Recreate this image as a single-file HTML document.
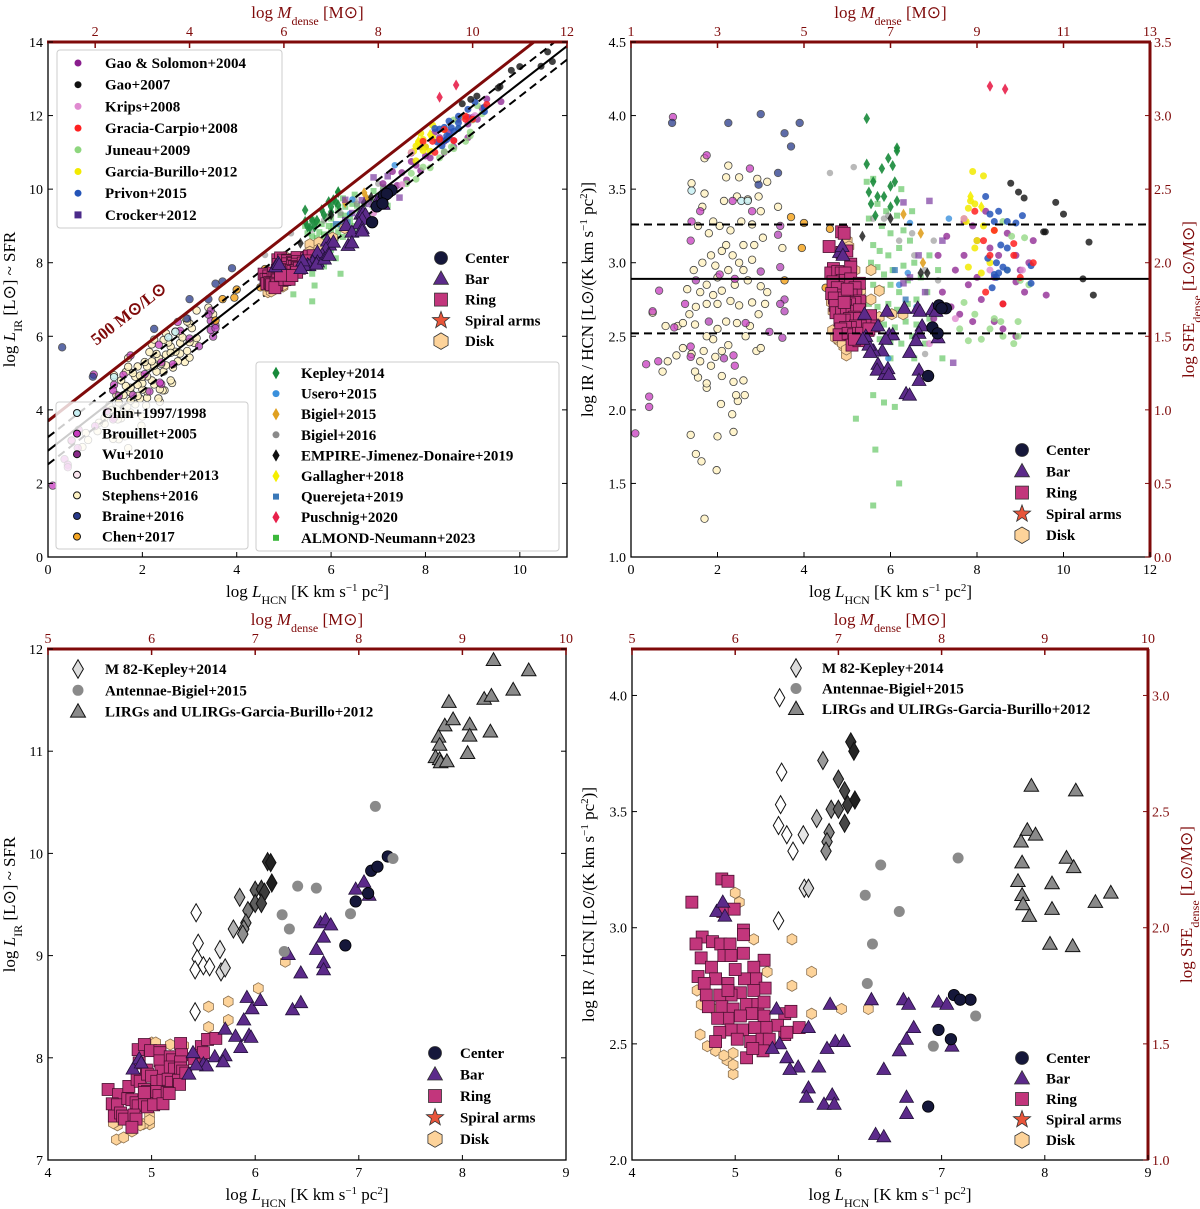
<!DOCTYPE html>
<html><head><meta charset="utf-8"><title>IR vs HCN</title>
<style>
html,body{margin:0;padding:0;background:#fff;}
svg{display:block;font-family:"Liberation Serif",serif;}
.tk{font-size:14px;}
.lab{font-size:17px;}
.lg{font-size:15px;font-weight:bold;}
</style></head>
<body>
<svg id="chart" width="1200" height="1209" viewBox="0 0 1200 1209" xmlns="http://www.w3.org/2000/svg"></svg>
<script>
// ---------- DATA: [log L_HCN, log IR/HCN] ----------
const gaoSolomon2004=[[7.3,3.18],[7.1,3.05],[7.7,3.28],[8.0,3.15],[8.3,3.10],[8.5,3.05],[7.5,2.95],[7.8,2.85],[8.1,2.75],[8.4,2.60],[8.6,2.55],[7.2,2.80],[7.6,2.65],[7.9,2.60],[7.4,2.70],[8.9,2.50],[9.6,2.78],[9.1,2.80],[9.0,2.95],[8.2,3.35],[8.7,3.20],[8.4,2.90],[9.2,3.00],[8.9,3.05],[7.0,2.62],[8.0,2.90],[9.3,3.15],[7.9,3.25],[7.7,3.05],[8.6,2.72],[8.9,2.87]];
const gao2007=[[8.78,3.54],[8.96,3.48],[9.09,3.44],[9.54,3.21],[9.58,3.21],[9.82,3.41],[10.0,3.33],[10.59,3.14],[10.45,2.89],[10.69,2.78]];
const krips2008=[[7.7,3.30],[9.05,2.95],[6.9,2.45],[7.5,2.62],[8.3,2.95]];
const graciaCarpio2008=[[7.95,3.35],[8.4,3.22],[8.15,3.15],[8.85,3.13],[8.85,3.05],[9.3,3.0],[8.2,2.80],[8.6,2.72],[9.0,2.90],[8.3,3.05]];
const juneau2009=[[8.6,3.28],[8.8,3.18],[9.1,3.17],[8.7,2.95],[9.0,2.88],[7.7,2.73],[7.95,2.65],[8.3,2.55],[8.6,2.50],[8.95,2.50],[7.8,2.47],[8.1,2.48],[8.95,2.60],[8.85,2.45],[9.2,2.85],[8.4,2.62],[7.6,2.55],[8.55,2.60]];
const garciaBurillo2012=[[7.9,3.62],[8.15,3.59],[7.85,3.42],[7.95,3.40],[7.8,3.37],[7.75,3.28],[8.0,3.15],[8.15,3.25],[7.8,2.97],[7.95,3.10],[8.1,2.93],[8.3,3.0],[7.7,3.30],[8.4,3.22]];
const privon2015=[[8.3,3.33],[8.5,3.35],[8.4,3.28],[8.7,3.28],[8.9,3.27],[9.05,3.32],[8.2,3.45],[8.7,3.10],[8.45,3.00],[8.6,2.97],[8.5,2.93],[8.4,2.92],[8.7,2.95],[8.25,3.03],[8.55,3.12],[8.35,2.83],[9.25,2.86],[9.25,2.98],[8.45,2.90]];
const crocker2012=[[6.3,3.41],[6.9,3.42],[6.65,3.05],[6.3,2.86],[6.8,2.80],[7.45,2.32],[7.2,3.15],[6.45,2.90]];
const chin1997=[[1.4,3.49],[2.55,3.42],[2.7,3.42]];
const brouillet2005=[[0.97,3.99],[1.75,3.73],[1.4,3.28],[1.38,3.15],[0.65,2.81],[0.5,2.67],[0.35,2.31],[0.42,2.09],[0.42,2.02],[0.1,1.84],[0.63,2.33],[1.0,2.56],[1.25,2.72],[1.38,2.43],[1.38,2.36],[2.05,2.92],[2.4,2.89],[2.65,2.59],[2.4,2.30],[2.37,2.37],[2.8,3.35],[2.75,3.64],[2.35,3.42],[1.6,3.35]];
const wu2010=[[3.0,2.94],[3.2,2.53],[3.45,2.97],[3.55,2.75],[3.5,2.49],[3.45,2.72],[3.55,2.67],[3.45,3.25],[3.4,3.19],[1.5,2.88],[1.8,2.60],[2.15,2.35]];
const stephens2016=[[1.7,1.26],[1.98,1.59],[1.63,1.65],[1.5,1.70],[1.38,1.83],[2.0,1.82],[2.37,1.85],[2.08,2.04],[2.34,1.97],[2.47,2.06],[2.63,2.10],[2.43,2.10],[2.6,2.20],[2.37,2.19],[2.1,2.23],[1.75,2.15],[1.75,2.18],[1.55,2.22],[1.48,2.26],[0.73,2.26],[0.85,2.33],[1.4,2.38],[1.6,2.33],[1.85,2.30],[1.68,2.40],[1.95,2.36],[2.1,2.40],[2.25,2.44],[1.2,2.42],[1.05,2.37],[2.9,2.40],[3.0,2.42],[1.9,2.48],[1.75,2.50],[1.08,2.57],[0.8,2.57],[1.2,2.59],[1.48,2.58],[2.0,2.55],[2.45,2.59],[2.2,2.60],[2.65,2.50],[2.95,2.65],[3.1,2.72],[2.8,2.73],[2.5,2.71],[2.3,2.74],[2.0,2.72],[1.75,2.72],[1.5,2.70],[1.3,2.82],[1.6,2.80],[1.9,2.78],[2.1,2.81],[2.4,2.85],[2.7,2.88],[3.0,2.84],[1.75,2.85],[2.0,2.90],[2.25,2.95],[2.5,3.0],[2.8,3.02],[1.45,2.95],[1.65,3.0],[1.85,3.05],[2.1,3.08],[2.35,3.05],[2.6,3.12],[3.05,3.17],[1.8,3.2],[2.05,3.25],[2.3,3.22],[2.55,3.28],[2.8,3.26],[3.0,3.35],[1.55,3.25],[1.65,3.38],[1.9,3.28],[2.15,3.42],[2.45,3.45],[2.7,3.43],[2.95,3.45],[1.7,3.47],[1.4,3.54],[2.2,3.58],[2.5,3.58],[2.92,3.57],[3.15,3.55],[2.25,3.66],[1.7,3.71],[3.4,3.38],[3.5,3.10],[0.5,2.66],[2.75,2.57],[3.15,2.80],[2.2,3.12],[1.95,2.98],[2.6,2.95],[1.35,2.65],[2.85,3.12]];
const braine2016=[[2.25,3.95],[3.0,4.01],[3.55,3.88],[3.9,3.95],[3.7,3.79],[3.4,3.61],[2.95,3.53],[0.3,5.4],[0.95,3.95]];
const chen2017=[[3.7,3.31],[4.0,3.27],[4.6,3.23],[3.95,3.10],[4.5,2.83],[3.55,2.88]];
const kepley2014=[[5.45,3.98],[6.15,3.78],[6.15,3.76],[5.95,3.71],[6.05,3.66],[5.45,3.67],[5.8,3.64],[5.6,3.55],[6.1,3.55],[6.0,3.52],[5.5,3.48],[5.7,3.45],[6.15,3.42],[5.55,3.40],[5.85,3.45],[6.0,3.38],[5.65,3.32]];
const usero2015=[[6.45,3.27],[7.35,3.30],[6.4,2.93],[6.2,2.85],[5.95,2.35],[6.6,2.70]];
const bigiel2015=[[6.3,3.33],[6.7,3.20],[6.75,3.0]];
const bigiel2016=[[4.6,3.61],[5.15,3.65],[5.6,3.30],[5.95,3.32],[6.2,3.15],[6.5,3.20],[7.0,3.15],[6.8,2.95],[7.1,2.88],[6.55,3.05],[7.0,2.55],[6.8,2.38],[5.85,3.30]];
const empire2019=[[5.35,3.18],[6.0,3.30],[6.7,2.93],[6.85,2.93]];
const gallagher2018=[[7.85,3.45],[8.1,3.38]];
const querejeta2019=[[6.1,2.95],[6.35,2.75]];
const puschnig2020=[[8.3,4.20],[8.65,4.18]];
const almond2023=[[5.6,3.57],[5.45,3.55],[6.25,3.50],[5.7,3.40],[5.9,3.35],[6.15,3.32],[5.5,3.30],[5.8,3.25],[6.0,3.20],[6.3,3.22],[6.5,3.35],[5.6,3.12],[5.75,3.08],[5.95,3.05],[6.2,3.10],[6.45,3.15],[5.55,3.0],[5.7,2.97],[5.85,2.92],[6.05,2.95],[6.3,2.98],[6.55,3.0],[5.6,2.85],[5.8,2.82],[6.0,2.85],[6.2,2.80],[6.4,2.88],[6.7,2.90],[5.5,2.72],[5.7,2.70],[5.95,2.72],[6.15,2.68],[6.4,2.72],[6.6,2.75],[6.85,2.80],[5.6,2.60],[5.85,2.58],[6.1,2.56],[6.35,2.60],[6.6,2.58],[6.9,2.62],[5.75,2.48],[6.0,2.46],[6.25,2.45],[6.5,2.50],[6.8,2.45],[6.0,2.35],[6.55,2.35],[7.2,2.35],[5.6,2.10],[5.85,2.05],[6.1,2.02],[5.2,1.94],[5.65,1.73],[6.2,1.50],[5.6,1.35],[7.0,2.55],[7.1,2.65],[6.9,3.05],[7.1,2.95]];
// galaxy sample (this work)
const centerPts=[[7.12,2.71],[7.28,2.69],[7.18,2.69],[6.97,2.56],[7.09,2.52],[6.87,2.23]];
const barPts=[[5.92,2.67],[6.32,2.69],[6.63,2.69],[6.68,2.67],[6.97,2.68],[7.05,2.67],[7.1,2.49],[6.73,2.57],[6.66,2.52],[6.59,2.47],[6.44,2.39],[5.97,2.51],[6.05,2.51],[5.89,2.48],[5.81,2.40],[5.71,2.57],[5.61,2.40],[5.5,2.44],[5.53,2.39],[5.43,2.50],[5.40,2.65],[5.71,2.31],[5.69,2.27],[5.86,2.24],[5.94,2.28],[5.96,2.24],[6.36,2.11],[6.44,2.10],[6.66,2.27],[6.66,2.20],[4.82,3.07],[4.88,3.11],[4.90,3.05],[5.36,2.48]];
const ringPts=[[4.58,3.11],[4.87,3.21],[4.93,3.20],[4.88,3.07],[4.99,3.08],[5.08,2.99],[5.08,2.97],[4.68,2.96],[4.62,2.93],[4.78,2.94],[4.86,2.93],[4.95,2.93],[4.89,2.88],[4.96,2.88],[5.08,2.89],[4.67,2.87],[4.77,2.83],[4.81,2.78],[4.64,2.79],[4.70,2.76],[5.28,2.86],[5.18,2.83],[5.20,2.78],[5.09,2.78],[4.93,2.76],[5.0,2.82],[5.29,2.74],[5.18,2.73],[5.05,2.72],[4.96,2.71],[4.85,2.71],[4.72,2.71],[4.74,2.66],[4.87,2.66],[4.98,2.65],[5.11,2.67],[5.22,2.67],[5.28,2.68],[5.16,2.63],[5.05,2.62],[4.93,2.61],[4.83,2.61],[5.28,2.62],[5.48,2.63],[5.54,2.64],[5.62,2.57],[5.48,2.54],[5.41,2.58],[5.30,2.57],[5.19,2.57],[5.07,2.56],[4.96,2.56],[4.85,2.55],[4.81,2.51],[5.02,2.52],[5.15,2.51],[5.26,2.52],[5.33,2.52],[5.50,2.55],[5.11,2.44],[5.27,2.47],[5.17,2.48],[4.93,2.73]];
const diskPts=[[5.0,3.15],[5.18,2.95],[5.55,2.95],[5.31,2.81],[5.74,2.81],[5.55,2.75],[6.03,2.65],[6.29,2.65],[5.74,2.63],[4.98,2.37],[4.92,2.43],[4.81,2.47],[4.66,2.54],[4.67,2.67],[4.79,2.65],[4.73,2.49],[4.98,2.46],[4.89,2.45],[4.98,2.41],[4.63,2.73],[5.04,3.11]];
// bottom-panel literature
const m82Kepley=[[5.43,3.99],[5.45,3.67],[5.44,3.53],[5.42,3.44],[5.50,3.40],[5.66,3.40],[5.56,3.33],[5.67,3.17],[5.71,3.17],[5.42,3.03],[5.85,3.72],[5.79,3.47],[5.93,3.51],[5.91,3.41],[5.89,3.37],[5.88,3.33],[6.0,3.64],[6.0,3.51],[6.06,3.59],[6.09,3.53],[6.06,3.45],[6.12,3.80],[6.15,3.76],[6.16,3.55]];
const antennaeBigiel=[[6.41,3.27],[7.16,3.30],[6.26,3.14],[6.59,3.07],[6.33,2.93],[6.28,2.76],[7.33,2.62],[6.92,2.49]];
const lirgsGB=[[7.87,3.61],[8.30,3.59],[7.83,3.42],[7.91,3.40],[7.77,3.37],[7.78,3.28],[8.21,3.30],[8.28,3.26],[7.74,3.20],[7.78,3.14],[7.79,3.10],[7.85,3.05],[8.07,3.19],[8.07,3.08],[8.49,3.11],[8.64,3.15],[8.05,2.93],[8.27,2.92]];
// ratio lines
const ratioLines=[2.52,2.89,3.26];
const densityLine=3.7;

// ---------- helpers ----------
const NS='http://www.w3.org/2000/svg';
const svg=document.getElementById('chart');
const RED='#7f0a0a';
function el(tag,attrs,parent){const e=document.createElementNS(NS,tag);for(const k in attrs)e.setAttribute(k,attrs[k]);(parent||svg).appendChild(e);return e;}
function shapeEl(parent,shape,cx,cy,s,fill,stroke,sw,op){
  let e;
  if(shape==='circle'){e=el('circle',{cx:cx,cy:cy,r:s/2},parent);}
  else if(shape==='square'){e=el('rect',{x:cx-s/2,y:cy-s/2,width:s,height:s},parent);}
  else{
    let pts=[];
    if(shape==='triangle')pts=[[0,-0.6],[-0.58,0.42],[0.58,0.42]];
    else if(shape==='diamond')pts=[[0,-0.62],[0.36,0],[0,0.62],[-0.36,0]];
    else if(shape==='hexagon'){for(let i=0;i<6;i++){const a=Math.PI/3*i-Math.PI/2;pts.push([0.55*Math.cos(a),0.55*Math.sin(a)]);}}
    else if(shape==='star'){for(let i=0;i<10;i++){const a=Math.PI/5*i-Math.PI/2;const r=i%2?0.25:0.6;pts.push([r*Math.cos(a),r*Math.sin(a)]);}}
    e=el('polygon',{points:pts.map(p=>(cx+p[0]*s).toFixed(1)+','+(cy+p[1]*s).toFixed(1)).join(' ')},parent);
  }
  e.setAttribute('fill',fill);e.setAttribute('stroke',stroke);e.setAttribute('stroke-width',sw);
  if(op<1)e.setAttribute('opacity',op);
  return e;
}
function txt(parent,x,y,str,cls,anchor,fill){const t=el('text',{x:x,y:y,'class':cls,'text-anchor':anchor||'start',fill:fill||'#000'},parent);t.textContent=str;return t;}
function richText(parent,x,y,parts,cls,fill,rot){
  const t=el('text',{x:x,y:y,'class':cls,'text-anchor':'middle',fill:fill||'#000'},parent);
  if(rot)t.setAttribute('transform','rotate('+rot+' '+x+' '+y+')');
  parts.forEach(p=>{const s=el('tspan',{},t);s.textContent=p[0];
    if(p[1]==='i')s.setAttribute('font-style','italic');
    if(p[1]==='sub'){s.setAttribute('font-size','12');s.setAttribute('baseline-shift','sub');}
    if(p[1]==='sup'){s.setAttribute('font-size','11');s.setAttribute('baseline-shift','super');}
  });
  return t;
}
const panels={
 A:{x0:48,x1:567,y0:42,y1:557,xmin:0,xmax:11,ymin:0,ymax:14},
 B:{x0:631,x1:1150,y0:42,y1:557,xmin:0,xmax:12,ymin:1,ymax:4.5},
 C:{x0:48,x1:566,y0:649,y1:1160,xmin:4,xmax:9,ymin:7,ymax:12},
 D:{x0:632,x1:1148,y0:649,y1:1160,xmin:4,xmax:9,ymin:2,ymax:4.2}
};
function sx(p,v){return p.x0+(v-p.xmin)/(p.xmax-p.xmin)*(p.x1-p.x0);}
function sy(p,v){return p.y1-(v-p.ymin)/(p.ymax-p.ymin)*(p.y1-p.y0);}
function yOf(p,d){return p.mode==='lir'?d[0]+d[1]:d[1];}
panels.A.mode='lir';panels.B.mode='ratio';panels.C.mode='lir';panels.D.mode='ratio';

const litSets=[
 {name:'stephens-2016',data:stephens2016,shape:'circle',fill:'#fff3c4',stroke:'#222',op:0.85,s:7.5},
 {name:'brouillet-2005',data:brouillet2005,shape:'circle',fill:'#c83cc0',stroke:'#222',op:0.75,s:7.5},
 {name:'wu-2010',data:wu2010,shape:'circle',fill:'#b440b8',stroke:'#222',op:0.75,s:7.5},
 {name:'chin-1997',data:chin1997,shape:'circle',fill:'#c8f0f4',stroke:'#222',op:0.85,s:7.5},
 {name:'braine-2016',data:braine2016,shape:'circle',fill:'#283a8c',stroke:'#222',op:0.75,s:7.5},
 {name:'chen-2017',data:chen2017,shape:'circle',fill:'#f5a623',stroke:'#222',op:0.85,s:7.5},
 {name:'almond-2023',data:almond2023,shape:'square',fill:'#3cb83c',stroke:'none',op:0.55,s:6},
 {name:'bigiel-2016',data:bigiel2016,shape:'circle',fill:'#8a8a8a',stroke:'none',op:0.6,s:6.5},
 {name:'kepley-2014',data:kepley2014,shape:'diamond',fill:'#178a3a',stroke:'none',op:0.9,s:9},
 {name:'usero-2015',data:usero2015,shape:'circle',fill:'#3a90dc',stroke:'none',op:0.8,s:6.5},
 {name:'bigiel-2015',data:bigiel2015,shape:'diamond',fill:'#e0a020',stroke:'none',op:0.9,s:9},
 {name:'empire-2019',data:empire2019,shape:'diamond',fill:'#111',stroke:'none',op:0.8,s:9},
 {name:'querejeta-2019',data:querejeta2019,shape:'square',fill:'#3a78b8',stroke:'none',op:0.8,s:6},
 {name:'crocker-2012',data:crocker2012,shape:'square',fill:'#7a3aa0',stroke:'none',op:0.7,s:6.5},
 {name:'gao-solomon-2004',data:gaoSolomon2004,shape:'circle',fill:'#8a1e8e',stroke:'none',op:0.75,s:7},
 {name:'juneau-2009',data:juneau2009,shape:'circle',fill:'#8ed67e',stroke:'none',op:0.75,s:7},
 {name:'garcia-burillo-2012',data:garciaBurillo2012,shape:'circle',fill:'#f2ea00',stroke:'none',op:0.85,s:7},
 {name:'gallagher-2018',data:gallagher2018,shape:'diamond',fill:'#f5ee00',stroke:'none',op:0.9,s:9},
 {name:'krips-2008',data:krips2008,shape:'circle',fill:'#e08ad0',stroke:'none',op:0.8,s:7},
 {name:'privon-2015',data:privon2015,shape:'circle',fill:'#2454b8',stroke:'none',op:0.85,s:7},
 {name:'gracia-carpio-2008',data:graciaCarpio2008,shape:'circle',fill:'#ff2020',stroke:'none',op:0.85,s:7},
 {name:'gao-2007',data:gao2007,shape:'circle',fill:'#111',stroke:'none',op:0.8,s:7},
 {name:'puschnig-2020',data:puschnig2020,shape:'diamond',fill:'#e8204a',stroke:'none',op:0.9,s:9}
];
const galSets=[
 {name:'disk',data:diskPts,shape:'hexagon',fill:'#fdd39a',stroke:'#8a7050'},
 {name:'ring',data:ringPts,shape:'square',fill:'#c2367c',stroke:'#4a1030'},
 {name:'bar',data:barPts,shape:'triangle',fill:'#5c2a8a',stroke:'#22103a'},
 {name:'center',data:centerPts,shape:'circle',fill:'#15173a',stroke:'#000'}
];

function clipGroup(key,p){
  const cp=el('clipPath',{id:'clip'+key});
  el('rect',{x:p.x0,y:p.y0,width:p.x1-p.x0,height:p.y1-p.y0},cp);
  const g=el('g',{'clip-path':'url(#clip'+key+')'});
  return g;
}
function drawAxes(key,p,opt){
  const g=el('g',{});
  
  
  const fr=el('rect',{x:p.x0,y:p.y0,width:p.x1-p.x0,height:p.y1-p.y0,fill:'none',stroke:'#000','stroke-width':1.3},g);
  
  
  const top=el('line',{x1:p.x0-1,y1:p.y0,x2:p.x1+1,y2:p.y0,stroke:RED,'stroke-width':3},g);
  
  
  if(opt.rightRed){const r=el('line',{x1:p.x1,y1:p.y0,x2:p.x1,y2:p.y1,stroke:RED,'stroke-width':3},g);
    
    }
  opt.xt.forEach(v=>{const x=sx(p,v);
    el('line',{x1:x,y1:p.y1,x2:x,y2:p.y1-5,stroke:'#000','stroke-width':1},g);
    const t=txt(g,x,p.y1+17,String(v),'tk','middle');
    
    });
  opt.topt.forEach(m=>{const x=sx(p,m-1);
    el('line',{x1:x,y1:p.y0,x2:x,y2:p.y0+6,stroke:RED,'stroke-width':1.5},g);
    const t=txt(g,x,p.y0-6,String(m),'tk','middle',RED);
    
    });
  opt.yt.forEach(v=>{const y=sy(p,v);
    el('line',{x1:p.x0,y1:y,x2:p.x0+5,y2:y,stroke:'#000','stroke-width':1},g);
    el('line',{x1:p.x1,y1:y,x2:p.x1-5,y2:y,stroke:opt.rightRed?RED:'#000','stroke-width':1},g);
    const t=txt(g,p.x0-5,y+5,opt.yfmt(v),'tk','end');
    
    
    if(opt.rightRed){const t2=txt(g,p.x1+4,y+5,(v-1).toFixed(1),'tk','start',RED);
      
      }
  });
  const cx=(p.x0+p.x1)/2;
  const xl=richText(g,cx,p.y1+40,[['log '],['L','i'],['HCN','sub'],[' [K km s'],['−1','sup'],[' pc'],['2','sup'],[']']],'lab');
  
  
  const tl=richText(g,cx,p.y0-24,[['log '],['M','i'],['dense','sub'],[' [M⊙]']],'lab',RED);
  
  
  const cy=(p.y0+p.y1)/2;
  let yl;
  if(p.mode==='lir')yl=richText(g,p.x0-33,cy,[['log '],['L','i'],['IR','sub'],[' [L⊙] ~ SFR']],'lab','#000',-90);
  else yl=richText(g,p.x0-38,cy,[['log IR / HCN [L⊙/(K km s'],['−1','sup'],[' pc'],['2','sup'],[')]']],'lab','#000',-90);
  
  
  if(opt.rightRed){const rl=richText(g,p.x1+44,cy,[['log SFE'],['dense','sub'],[' [L⊙/M⊙]']],'lab',RED,-90);
    
    }
}
function drawLit(g,p){
  litSets.forEach(ds=>{const sg=el('g',{},g);
    
    
    ds.data.forEach(d=>{const m=shapeEl(sg,ds.shape,sx(p,d[0]),sy(p,yOf(p,d)),ds.s,ds.fill,ds.stroke,0.8,ds.op);
      
      });
  });
}
function drawGal(g,p,s){
  galSets.forEach(ds=>{const sg=el('g',{},g);
    
    
    const sz=ds.shape==='hexagon'?s*0.85:(ds.shape==='circle'?s*0.95:s);
    ds.data.forEach(d=>{const m=shapeEl(sg,ds.shape,sx(p,d[0]),sy(p,yOf(p,d)),sz,ds.fill,ds.stroke,0.8,1);
      
      });
  });
}
function drawBottomLit(g,p){
  const s1=el('g',{},g);
  
  
  antennaeBigiel.forEach(d=>{const m=shapeEl(s1,'circle',sx(p,d[0]),sy(p,yOf(p,d)),11,'#8a8a8a','none',0,1);
    
    });
  const s2=el('g',{},g);
  
  
  lirgsGB.forEach(d=>{const m=shapeEl(s2,'triangle',sx(p,d[0]),sy(p,yOf(p,d)),12.5,'#8a8a8a','#111',1,1);
    
    });
  const s3=el('g',{},g);
  
  
  m82Kepley.forEach(d=>{const gv=Math.max(20,Math.min(255,Math.round(255-(d[0]-5.6)/0.6*240)));
    const m=shapeEl(s3,'diamond',sx(p,d[0]),sy(p,yOf(p,d)),14.5,'rgb('+gv+','+gv+','+gv+')','#111',1,1);
    
    });
}
function galLegend(x,y,dy,mx){
  const g=el('g',{});
  
  
  const items=[['circle','#15173a','Center'],['triangle','#5c2a8a','Bar'],['square','#c2367c','Ring'],['star','#e8553a','Spiral arms'],['hexagon','#fdd39a','Disk']];
  items.forEach((it,i)=>{const yy=y+i*dy;
    shapeEl(g,it[0],mx,yy-5,it[0]==='star'?15:(it[0]==='hexagon'?15:13),it[1],'#333',0.8,1);
    const t=txt(g,x,yy,it[2],'lg');
    
    });
}
function litLegend(box,mx,tx,y0,dy,items,name){
  const g=el('g',{});
  
  
  if(box)el('rect',{x:box[0],y:box[1],width:box[2],height:box[3],rx:3,fill:'#fff','fill-opacity':0.8,stroke:'#cccccc','stroke-width':1},g);
  items.forEach((it,i)=>{const yy=y0+i*dy;
    shapeEl(g,it[0],mx,yy-5,it[3]||7,it[1],it[4]||'none',it[4]?1:0,1);
    const t=txt(g,tx,yy,it[2],'lg');
    
    });
}

// ---------- PANEL A ----------
(function(){const p=panels.A;const g=clipGroup('A',p);
  
  
  drawLit(g,p);
  ratioLines.forEach((r,i)=>{const l=el('line',{x1:sx(p,0),y1:sy(p,r),x2:sx(p,11),y2:sy(p,11+r),stroke:'#000','stroke-width':2,'stroke-dasharray':i===1?'none':'8,5'},g);
    
    });
  drawGal(g,p,12);
  const dl=el('line',{x1:sx(p,0),y1:sy(p,densityLine),x2:sx(p,11),y2:sy(p,11+densityLine),stroke:RED,'stroke-width':3},g);
  
  
  const lt=el('text',{x:132,y:318,fill:RED,'font-size':17,'font-weight':'bold',transform:'rotate(-38 132 318)','text-anchor':'middle'});
  lt.textContent='500 M⊙/L⊙';
  
  
  drawAxes('A',p,{xt:[0,2,4,6,8,10],topt:[2,4,6,8,10,12],yt:[0,2,4,6,8,10,12,14],yfmt:v=>String(v),rightRed:false});
  litLegend([57,50,225,178],78,105,68,21.7,[['circle','#8a1e8e','Gao & Solomon+2004'],['circle','#111','Gao+2007'],['circle','#e08ad0','Krips+2008'],['circle','#ff2020','Gracia-Carpio+2008'],['circle','#8ed67e','Juneau+2009'],['circle','#f2ea00','Garcia-Burillo+2012'],['circle','#2454b8','Privon+2015'],['square','#4b2a8a','Crocker+2012',7]],'legend-literature-1');
  litLegend([56,402,192,147],77,102,418,20.6,[['circle','#c8f0f4','Chin+1997/1998',7,'#111'],['circle','#c83cc0','Brouillet+2005',7,'#111'],['circle','#8a2a8a','Wu+2010',7,'#111'],['circle','#fbe6f0','Buchbender+2013',7,'#111'],['circle','#fff3c4','Stephens+2016',7,'#111'],['circle','#283a8c','Braine+2016',7,'#111'],['circle','#f5a623','Chen+2017',7,'#111']],'legend-literature-2');
  litLegend([256,362,303,189],276,301,378,20.6,[['diamond','#178a3a','Kepley+2014',10],['circle','#3a90dc','Usero+2015'],['diamond','#e0a020','Bigiel+2015',10],['circle','#8a8a8a','Bigiel+2016'],['diamond','#111','EMPIRE-Jimenez-Donaire+2019',10],['diamond','#f5ee00','Gallagher+2018',10],['square','#3a78b8','Querejeta+2019',6],['diamond','#e8204a','Puschnig+2020',10],['square','#3cb83c','ALMOND-Neumann+2023',6]],'legend-literature-3');
  galLegend(465,263,20.8,441);
})();
// ---------- PANEL B ----------
(function(){const p=panels.B;const g=clipGroup('B',p);
  
  
  drawLit(g,p);
  drawGal(g,p,12);
  ratioLines.forEach((r,i)=>{const l=el('line',{x1:p.x0,y1:sy(p,r),x2:p.x1,y2:sy(p,r),stroke:'#000','stroke-width':2,'stroke-dasharray':i===1?'none':'8,5'},g);
    
    });
  drawAxes('B',p,{xt:[0,2,4,6,8,10,12],topt:[1,3,5,7,9,11,13],yt:[1,1.5,2,2.5,3,3.5,4,4.5],yfmt:v=>v.toFixed(1),rightRed:true});
  galLegend(1046,455,21.3,1022);
})();
// ---------- PANEL C ----------
(function(){const p=panels.C;const g=clipGroup('C',p);
  
  
  drawGal(g,p,12);
  drawBottomLit(g,p);
  drawAxes('C',p,{xt:[4,5,6,7,8,9],topt:[5,6,7,8,9,10],yt:[7,8,9,10,11,12],yfmt:v=>String(v),rightRed:false});
  litLegend(null,78,105,674,21.3,[['diamond','#ddd','M 82-Kepley+2014',15,'#111'],['circle','#8a8a8a','Antennae-Bigiel+2015',11],['triangle','#8a8a8a','LIRGs and ULIRGs-Garcia-Burillo+2012',13,'#111']],'legend-bottom-left-literature');
  galLegend(460,1058,21.5,435);
})();
// ---------- PANEL D ----------
(function(){const p=panels.D;const g=clipGroup('D',p);
  
  
  drawGal(g,p,12);
  drawBottomLit(g,p);
  drawAxes('D',p,{xt:[4,5,6,7,8,9],topt:[5,6,7,8,9,10],yt:[2,2.5,3,3.5,4],yfmt:v=>v.toFixed(1),rightRed:true});
  litLegend(null,796,822,673,20.5,[['diamond','#ddd','M 82-Kepley+2014',15,'#111'],['circle','#8a8a8a','Antennae-Bigiel+2015',11],['triangle','#8a8a8a','LIRGs and ULIRGs-Garcia-Burillo+2012',13,'#111']],'legend-bottom-right-literature');
  galLegend(1046,1063,20.5,1022);
})();
</script>
</body></html>
